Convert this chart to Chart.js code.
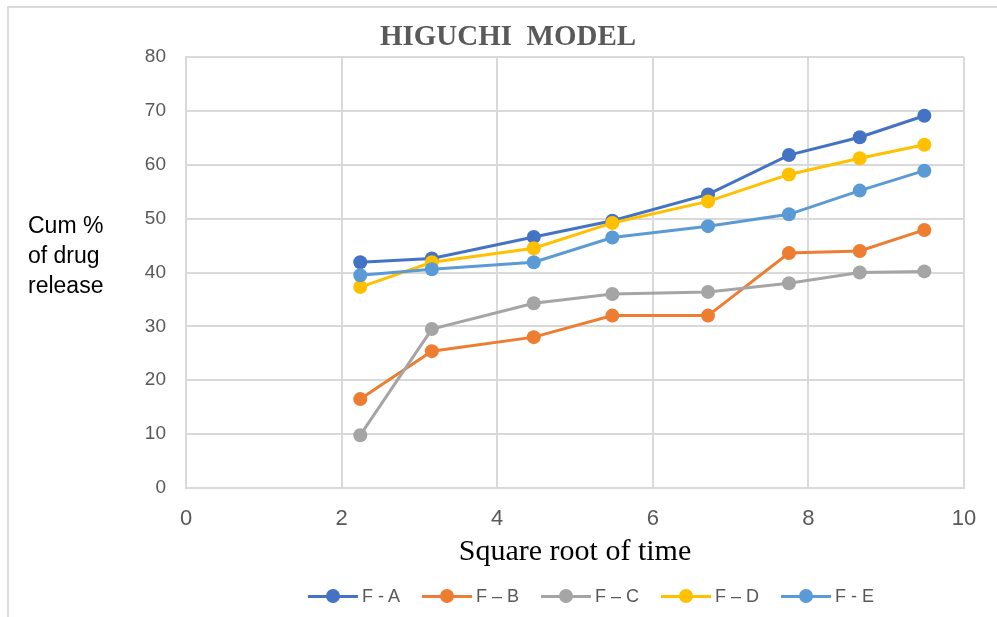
<!DOCTYPE html>
<html>
<head>
<meta charset="utf-8">
<script src="https://cdn.jsdelivr.net/npm/chart.js@4.4.1/dist/chart.umd.min.js"></script>
<style>
  html, body { margin: 0; padding: 0; background: #fff; }
  #wrap { position: relative; width: 997px; height: 617px; overflow: hidden; }
  #frame { position: absolute; left: 7px; top: 6px; width: 1000px; height: 620px;
           border-left: 2px solid #d9d9d9; border-top: 2px solid #d9d9d9; }
  #chart { position: absolute; left: 0; top: 0; }
  #legend { position: absolute; left: 308px; top: 586px; height: 20px; display: flex;
            align-items: center; font-family: "Liberation Sans", Arial, sans-serif;
            font-size: 18px; color: #595959; }
  .item { display: flex; align-items: center; margin-right: 22px; }
  .key { position: relative; width: 50px; height: 20px; margin-right: 4px; }
  .key .ln { position: absolute; left: 0; top: 8.5px; width: 50px; height: 3px; }
  .key .dot { position: absolute; left: 18px; top: 3px; width: 14px; height: 14px; border-radius: 50%; }
</style>
</head>
<body>
<div id="wrap">
  <div id="frame"></div>
  <canvas id="chart" width="997" height="617"></canvas>
  <div id="legend"></div>
</div>
<script>
// square root of time
const xValues = [2.24, 3.16, 4.47, 5.48, 6.71, 7.75, 8.66, 9.49];

const seriesNames = ['F - A', 'F \u2013 B', 'F \u2013 C', 'F \u2013 D', 'F - E'];
const fA = [41.9, 42.6, 46.6, 49.6, 54.5, 61.8, 65.1, 69.1];
const fB = [16.5, 25.4, 28.0, 32.0, 32.0, 43.6, 44.0, 47.9];
const fC = [9.8, 29.5, 34.3, 36.0, 36.4, 38.0, 40.0, 40.2];
const fD = [37.3, 41.9, 44.5, 49.2, 53.2, 58.2, 61.2, 63.7];
const fE = [39.5, 40.6, 41.9, 46.5, 48.6, 50.8, 55.2, 58.9];
const seriesValues = [fA, fB, fC, fD, fE];
const seriesColors = ['#4472c4', '#ed7d31', '#a5a5a5', '#ffc000', '#5b9bd5'];

const chartTitle = 'HIGUCHI  MODEL';
const yTitleLines = ['Cum %', 'of drug', 'release'];

const datasets = seriesValues.map(function (vals, i) {
    return {
        label: seriesNames[i],
        data: vals.map((v, j) => ({ x: xValues[j], y: v })),
        borderColor: seriesColors[i],
        backgroundColor: seriesColors[i],
        borderWidth: 3,
        pointRadius: 7,
        pointBorderWidth: 0,
        pointHoverRadius: 7,
        tension: 0,
        order: seriesValues.length - i
    };
});

// title and horizontal y-axis title
const textPlugin = {
    id: 'texts',
    afterDraw(chart) {
        const ctx = chart.ctx;
        ctx.save();
        ctx.font = 'bold 29px "Liberation Serif", "Times New Roman", serif';
        ctx.fillStyle = '#595959';
        ctx.textAlign = 'center';
        ctx.textBaseline = 'middle';
        ctx.fillText(chartTitle, 508, 38);

        ctx.font = '23px "Liberation Sans", Arial, sans-serif';
        ctx.fillStyle = '#000';
        ctx.textAlign = 'left';
        ctx.textBaseline = 'alphabetic';
        yTitleLines.forEach((t, i) => ctx.fillText(t, 28, 233 + i * 30));
        ctx.restore();
    }
};

const gridColor = '#d9d9d9';

new Chart(document.getElementById('chart').getContext('2d'), {
    type: 'line',
    data: { datasets: datasets },
    plugins: [textPlugin],
    options: {
        responsive: false,
        animation: false,
        layout: { padding: { left: 20, right: 33, top: 57, bottom: 47 } },
        plugins: {
            legend: { display: false },
            tooltip: { enabled: false },
            title: { display: false }
        },
        scales: {
            x: {
                type: 'linear',
                min: 0,
                max: 10,
                ticks: {
                    stepSize: 2,
                    color: '#595959',
                    padding: 18,
                    font: { family: '"Liberation Sans", Arial, sans-serif', size: 22 }
                },
                grid: { color: gridColor, lineWidth: 2, drawTicks: false },
                border: { color: gridColor, width: 2 },
                title: {
                    display: true,
                    text: 'Square root of time',
                    color: '#000',
                    font: { family: '"Liberation Serif", "Times New Roman", serif', size: 30, lineHeight: 1.2 },
                    padding: { top: 0, bottom: 0 }
                },
                afterFit(scale) { scale.height = 82; }
            },
            y: {
                min: 0,
                max: 80,
                ticks: {
                    stepSize: 10,
                    color: '#595959',
                    padding: 20,
                    font: { family: '"Liberation Sans", Arial, sans-serif', size: 19 }
                },
                grid: { color: gridColor, lineWidth: 2, drawTicks: false },
                border: { color: gridColor, width: 2 },
                afterFit(scale) { scale.width = 166; }
            }
        }
    }
});

// legend drawn as html
const legend = document.getElementById('legend');
seriesNames.forEach(function (name, i) {
    const item = document.createElement('div');
    item.className = 'item';
    item.innerHTML = '<div class="key"><div class="ln" style="background:' + seriesColors[i] +
        '"></div><div class="dot" style="background:' + seriesColors[i] + '"></div></div><span>' + name + '</span>';
    legend.appendChild(item);
});
</script>
</body>
</html>
